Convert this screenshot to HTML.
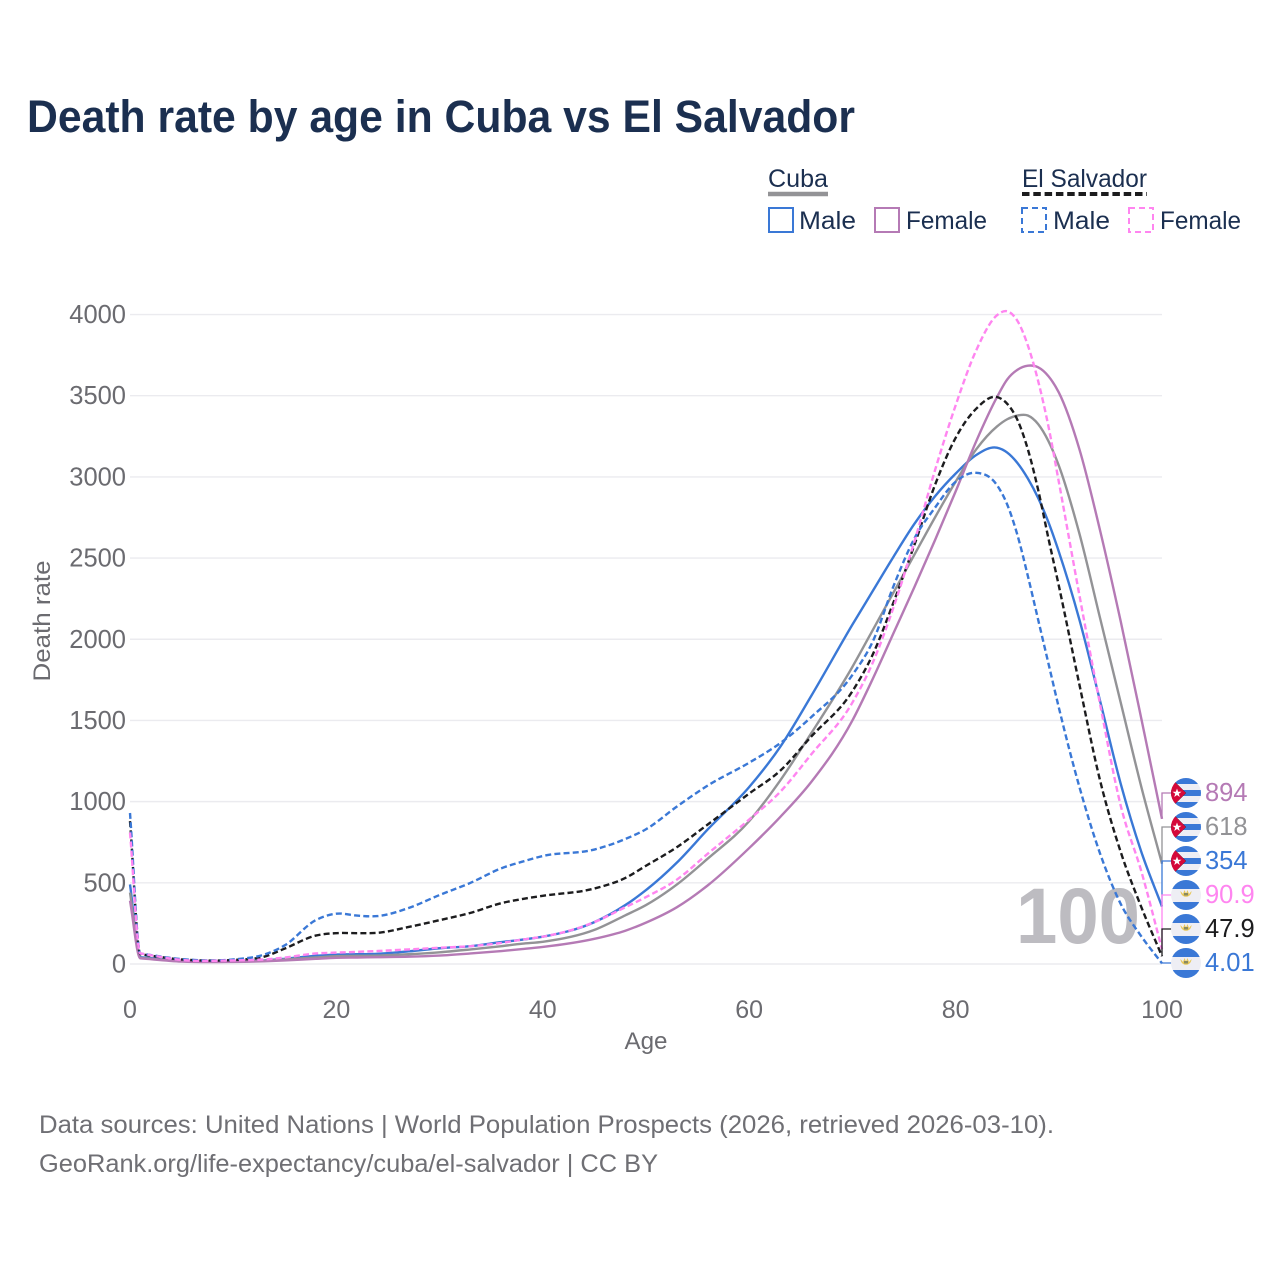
<!DOCTYPE html>
<html lang="en">
<head>
<meta charset="utf-8">
<title>Death rate by age in Cuba vs El Salvador</title>
<style>
html,body{margin:0;padding:0;background:#fff;}
svg{display:block;font-family:"Liberation Sans",sans-serif;}
</style>
</head>
<body>
<svg id="chart" width="1280" height="1280" viewBox="0 0 1280 1280" xmlns="http://www.w3.org/2000/svg">
  <defs>
    <clipPath id="flag-clip"><circle cx="0" cy="0" r="15"/></clipPath>
  </defs>
  <rect x="0" y="0" width="1280" height="1280" fill="#ffffff"/>
  <text x="27" y="132" font-size="45" font-weight="700" fill="#1b2f50" textLength="828" lengthAdjust="spacingAndGlyphs">Death rate by age in Cuba vs El Salvador</text>

  <g font-size="25" fill="#1b2f50">
    <text x="768" y="187" textLength="60" lengthAdjust="spacingAndGlyphs">Cuba</text>
    <line x1="768" y1="194" x2="828" y2="194" stroke="#939396" stroke-width="4.5"/>
    <text x="1022" y="187" textLength="125" lengthAdjust="spacingAndGlyphs">El Salvador</text>
    <line x1="1022" y1="194" x2="1147" y2="194" stroke="#1c1c1e" stroke-width="4" stroke-dasharray="7.5 3.8"/>
    <rect x="769" y="208" width="24" height="24" fill="none" stroke="#3a78d6" stroke-width="2"/>
    <text x="799" y="229" textLength="57" lengthAdjust="spacingAndGlyphs">Male</text>
    <rect x="875" y="208" width="24" height="24" fill="none" stroke="#b57ab5" stroke-width="2"/>
    <text x="906" y="229" textLength="81" lengthAdjust="spacingAndGlyphs">Female</text>
    <rect x="1022" y="208" width="24" height="24" fill="none" stroke="#3a78d6" stroke-width="2" stroke-dasharray="6 4"/>
    <text x="1053" y="229" textLength="57" lengthAdjust="spacingAndGlyphs">Male</text>
    <rect x="1129" y="208" width="24" height="24" fill="none" stroke="#ff85f0" stroke-width="2" stroke-dasharray="6 4"/>
    <text x="1160" y="229" textLength="81" lengthAdjust="spacingAndGlyphs">Female</text>
  </g>

  <g id="grid"></g>
  <g id="yticks"></g>
  <g id="xticks"></g>
  <text transform="translate(50,621) rotate(-90)" text-anchor="middle" font-size="24" fill="#6b6b70" textLength="121" lengthAdjust="spacingAndGlyphs">Death rate</text>
  <text x="646" y="1049" text-anchor="middle" font-size="24" fill="#6b6b70" textLength="43" lengthAdjust="spacingAndGlyphs">Age</text>
  <text x="1016" y="943" font-size="79" font-weight="700" fill="#bdbcc1" textLength="124" lengthAdjust="spacingAndGlyphs">100</text>
  <g id="series"></g>
  <g id="endlabels"></g>

  <text x="39" y="1133" font-size="25" fill="#6f6f74" textLength="1015" lengthAdjust="spacingAndGlyphs">Data sources: United Nations | World Population Prospects (2026, retrieved 2026-03-10).</text>
  <text x="39" y="1172" font-size="25" fill="#6f6f74" textLength="619" lengthAdjust="spacingAndGlyphs">GeoRank.org/life-expectancy/cuba/el-salvador | CC BY</text>
</svg>
<script>
var ages = [0,1,5,10,13,15,18,20,22,24,27,30,33,36,38,40,45,48,50,53,56,60,63,66,70,72,74,76,78,80,82,84,85,86,87,88,89,90,92,94,96,98,100];
var yTickValues = [0,500,1000,1500,2000,2500,3000,3500,4000];
var xTickValues = [0,20,40,60,80,100];

var cubaMale = [490,42,20,15,22,32,50,58,60,63,78,97,110,135,150,168,258,363,455,625,830,1090,1337,1650,2090,2300,2510,2710,2880,3020,3135,3180,3150,3085,2990,2870,2720,2540,2120,1620,1110,690,354];
var cubaTotal = [440,38,18,14,20,28,40,48,50,52,60,72,90,110,125,137,210,300,363,490,650,880,1130,1420,1830,2060,2290,2520,2750,2970,3170,3310,3355,3378,3378,3325,3220,3070,2650,2130,1610,1090,618];
var cubaFemale = [390,35,15,13,17,22,32,38,40,42,45,52,65,80,92,105,155,205,255,350,485,714,905,1120,1500,1760,2040,2320,2610,2910,3220,3490,3600,3660,3685,3675,3620,3520,3170,2670,2110,1510,894];
var salvadorMale = [930,65,30,28,58,115,270,310,298,295,345,425,500,590,630,665,705,770,830,970,1100,1240,1360,1520,1780,1990,2330,2620,2810,2970,3025,2950,2830,2640,2390,2120,1850,1580,1090,680,370,170,4.01];
var salvadorTotal = [880,60,28,25,45,95,175,190,190,192,228,270,315,375,400,420,465,530,605,720,860,1050,1190,1400,1680,1910,2230,2580,2950,3240,3420,3492,3450,3350,3170,2920,2620,2330,1720,1130,690,350,47.9];
var salvadorFemale = [810,65,25,22,28,40,65,70,75,80,90,100,110,130,150,168,258,350,412,520,680,890,1060,1290,1610,1860,2200,2600,3040,3440,3780,3995,4020,3960,3810,3590,3310,2970,2270,1600,975,570,90.9];

var endLabels = ["894","618","354","90.9","47.9","4.01"];

var NS = "http://www.w3.org/2000/svg";
function xScale(a){ return 130 + a * 10.32; }
function yScale(v){ return 964 - v * 0.16237; }
function mk(tag, parent, attrs){
  var el = document.createElementNS(NS, tag);
  for (var k in attrs) el.setAttribute(k, attrs[k]);
  parent.appendChild(el);
  return el;
}
function smoothPath(xs, ys){
  var n = xs.length, d = [], m = [], i;
  for (i = 0; i < n - 1; i++) d[i] = (ys[i+1] - ys[i]) / (xs[i+1] - xs[i]);
  m[0] = d[0]; m[1] = d[1]; m[n-1] = d[n-2];
  for (i = 2; i < n - 1; i++){
    var h0 = xs[i] - xs[i-1], h1 = xs[i+1] - xs[i];
    m[i] = (d[i-1] * h1 + d[i] * h0) / (h0 + h1);
  }
  var s = "M" + xs[0].toFixed(2) + "," + ys[0].toFixed(2);
  for (i = 0; i < n - 1; i++){
    var h = (xs[i+1] - xs[i]) / 3;
    s += "C" + (xs[i] + h).toFixed(2) + "," + (ys[i] + m[i] * h).toFixed(2) + " " +
         (xs[i+1] - h).toFixed(2) + "," + (ys[i+1] - m[i+1] * h).toFixed(2) + " " +
         xs[i+1].toFixed(2) + "," + ys[i+1].toFixed(2);
  }
  return s;
}

var grid = document.getElementById("grid");
var yticks = document.getElementById("yticks");
var xticks = document.getElementById("xticks");
yTickValues.forEach(function(v){
  var line = mk("line", grid, {x1:130, x2:1162, y1:yScale(v), y2:yScale(v), stroke:"#ebebef", "stroke-width":1.4});
  
  
  var t = mk("text", yticks, {x:126, y:yScale(v) + 8.5, "text-anchor":"end", "font-size":25.5, fill:"#6b6b70"});
  
  
  t.textContent = v;
});
xTickValues.forEach(function(v){
  var t = mk("text", xticks, {x:xScale(v), y:1018, "text-anchor":"middle", "font-size":25, fill:"#6b6b70"});
  
  
  t.textContent = v;
});

var seriesGroup = document.getElementById("series");
var px = ages.map(xScale);
function drawLine(values, name, color, dashed){
  var attrs = {d: smoothPath(px, values.map(yScale)), fill:"none", stroke:color, "stroke-width":2.4, "stroke-linejoin":"round"};
  if (dashed) attrs["stroke-dasharray"] = "6 3.2";
  var p = mk("path", seriesGroup, attrs);
  
  
}
drawLine(cubaMale, 'line-cuba-male', '#3a78d6', false);
drawLine(cubaTotal, 'line-cuba-total', '#939396', false);
drawLine(cubaFemale, 'line-cuba-female', '#b57ab5', false);
drawLine(salvadorTotal, 'line-el-salvador-total', '#1c1c1e', true);
drawLine(salvadorMale, 'line-el-salvador-male', '#3a78d6', true);
drawLine(salvadorFemale, 'line-el-salvador-female', '#ff85f0', true);

var labelGroup = document.getElementById("endlabels");
function cubaFlag(g){
  mk("rect", g, {x:-15, y:-15, width:30, height:30, fill:"#eeeef4"});
  mk("rect", g, {x:-15, y:-15, width:30, height:6, fill:"#3a78d6"});
  mk("rect", g, {x:-15, y:-3, width:30, height:6, fill:"#3a78d6"});
  mk("rect", g, {x:-15, y:9, width:30, height:6, fill:"#3a78d6"});
  mk("polygon", g, {points:"-15,-15 0,0 -15,15", fill:"#d5093a", stroke:"#222", "stroke-width":0.3});
  mk("polygon", g, {points:"-9,-4.5 -7.8,-1.3 -4.5,-1.3 -7.2,0.7 -6.2,4 -9,2 -11.8,4 -10.8,0.7 -13.5,-1.3 -10.2,-1.3", fill:"#ffffff"});
}
function salvadorFlag(g){
  mk("rect", g, {x:-15, y:-15, width:30, height:30, fill:"#eeeef4"});
  mk("rect", g, {x:-15, y:-15, width:30, height:9, fill:"#3a78d6"});
  mk("rect", g, {x:-15, y:7, width:30, height:8, fill:"#3a78d6"});
  mk("path", g, {d:"M-5.5,-4 L-3,-1 L-1.5,-5 L0,-1.5 L1.5,-5 L3,-1 L5.5,-4 A5.5,5.8 0 0 1 -5.5,-4 Z", fill:"#e8c85a"});
  mk("rect", g, {x:-2, y:-2, width:4, height:2.5, fill:"#8a8a60"});
}
function drawEndLabel(values, index, name, color, flagFn){
  var ySlot = 793 + index * 34;
  var endY = yScale(values[values.length - 1]);
  var lead = mk("path", labelGroup, {d:"M1162," + endY.toFixed(1) + "L1162," + ySlot + "L1172," + ySlot, fill:"none", stroke:color, "stroke-width":1.3});
  
  
  var g = mk("g", labelGroup, {transform:"translate(1186," + ySlot + ")", "clip-path":"url(#flag-clip)"});
  
  
  flagFn(g);
  var t = mk("text", labelGroup, {x:1205, y:ySlot + 8, "font-size":25.5, fill:color});
  
  
  t.textContent = endLabels[index];
}
drawEndLabel(cubaFemale, 0, 'end-cuba-female', '#b57ab5', cubaFlag);
drawEndLabel(cubaTotal, 1, 'end-cuba-total', '#939396', cubaFlag);
drawEndLabel(cubaMale, 2, 'end-cuba-male', '#3a78d6', cubaFlag);
drawEndLabel(salvadorFemale, 3, 'end-el-salvador-female', '#ff85f0', salvadorFlag);
drawEndLabel(salvadorTotal, 4, 'end-el-salvador-total', '#1c1c1e', salvadorFlag);
drawEndLabel(salvadorMale, 5, 'end-el-salvador-male', '#3a78d6', salvadorFlag);
</script>
</body>
</html>
